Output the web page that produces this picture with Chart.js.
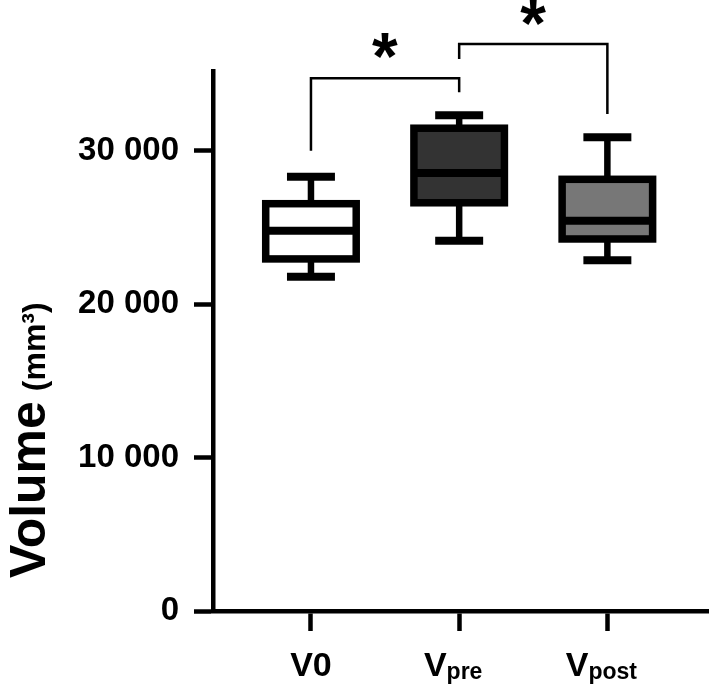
<!DOCTYPE html>
<html><head><meta charset="utf-8">
<script src="https://cdn.jsdelivr.net/npm/chart.js@4.4.1/dist/chart.umd.min.js"></script>
<style>html,body{margin:0;padding:0;background:#fff}canvas{display:block}</style>
</head><body>
<canvas id="c" width="709" height="685"></canvas>
<script>
// ---- data ----
const categories  = ['V0', 'Vpre', 'Vpost'];
const labelMain   = ['V0', 'V', 'V'];
const labelSub    = ['', 'pre', 'post'];
const whiskerLow  = [21790, 24130, 22860];
const q1          = [22950, 26610, 24250];
const median      = [24790, 28550, 25440];
const q3          = [26550, 31470, 28140];
const whiskerHigh = [28310, 32310, 30880];
const yTicks      = [0, 10000, 20000, 30000];
const boxFills    = ['#ffffff', '#333333', '#777777'];
// significance brackets
const sigFrom     = [0, 1];
const sigTo       = [1, 2];
const sigFromEnd  = [30000, 35980];
const sigToEnd    = [33810, 32390];
const sigTop      = [34720, 36960];
const sigStarY    = [36890, 39040];
const sigLabel    = ['*', '*'];
const yTitleMain  = 'Volume';
const yTitleUnit  = '(mm³)';

const FONT = '"Liberation Sans", Arial, Helvetica, sans-serif';

function fmt(v){ return String(v).replace(/\B(?=(\d{3})+(?!\d))/g, ' '); }

function line(ctx, x1, y1, x2, y2){ ctx.beginPath(); ctx.moveTo(x1, y1); ctx.lineTo(x2, y2); ctx.stroke(); }

const boxPlugin = {
  id: 'boxplotDecor',
  afterDatasetsDraw(chart){
    const ctx = chart.ctx;
    const x = chart.scales.x, y = chart.scales.y;
    const meta = chart.getDatasetMeta(0);
    ctx.save();
    ctx.strokeStyle = '#000';
    ctx.fillStyle = '#000';
    ctx.lineCap = 'butt';
    meta.data.forEach((bar, i) => {
      const cx = bar.x;
      const half = bar.width / 2;
      const capHalf = half * 0.53;
      const yLo = y.getPixelForValue(whiskerLow[i]);
      const yQ1 = y.getPixelForValue(q1[i]);
      const yMd = y.getPixelForValue(median[i]);
      const yQ3 = y.getPixelForValue(q3[i]);
      const yHi = y.getPixelForValue(whiskerHigh[i]);
      ctx.lineWidth = 6.5;
      line(ctx, cx, yQ3, cx, yHi);
      line(ctx, cx, yQ1, cx, yLo);
      ctx.lineWidth = 8;
      line(ctx, cx - capHalf, yHi, cx + capHalf, yHi);
      line(ctx, cx - capHalf, yLo, cx + capHalf, yLo);
      ctx.lineWidth = 7.5;
      ctx.lineJoin = 'miter';
      ctx.strokeRect(cx - half, yQ3, 2 * half, yQ1 - yQ3);
      ctx.lineWidth = 8;
      line(ctx, cx - half, yMd, cx + half, yMd);
    });

    // significance brackets
    ctx.lineWidth = 2.5;
    ctx.lineJoin = 'miter';
    sigFrom.forEach((f, k) => {
      const xf = x.getPixelForValue(f), xt = x.getPixelForValue(sigTo[k]);
      const yt = y.getPixelForValue(sigTop[k]);
      ctx.beginPath();
      ctx.moveTo(xf, y.getPixelForValue(sigFromEnd[k]));
      ctx.lineTo(xf, yt);
      ctx.lineTo(xt, yt);
      ctx.lineTo(xt, y.getPixelForValue(sigToEnd[k]));
      ctx.stroke();
      // asterisk centred on its point
      ctx.font = 'bold 66px ' + FONT;
      ctx.textAlign = 'left';
      ctx.textBaseline = 'alphabetic';
      const m = ctx.measureText(sigLabel[k]);
      const cxs = (xf + xt) / 2, cys = y.getPixelForValue(sigStarY[k]);
      const w = m.actualBoundingBoxRight + m.actualBoundingBoxLeft;
      const tx = cxs - w / 2 + m.actualBoundingBoxLeft;
      const ty = cys + (m.actualBoundingBoxAscent - m.actualBoundingBoxDescent) / 2;
      ctx.fillText(sigLabel[k], tx, ty);
    });

    // x category labels with subscripts
    const baseY = chart.chartArea.bottom + 65;
    categories.forEach((c, i) => {
      const cx = x.getPixelForValue(i);
      ctx.font = 'bold 34px ' + FONT;
      const wm = ctx.measureText(labelMain[i]).width;
      ctx.font = 'bold 23px ' + FONT;
      const ws = labelSub[i] ? ctx.measureText(labelSub[i]).width : 0;
      const shift = labelSub[i] ? -6 : 0;
      const start = cx - (wm + ws) / 2 + shift;
      ctx.textAlign = 'left';
      ctx.textBaseline = 'alphabetic';
      ctx.font = 'bold 34px ' + FONT;
      ctx.fillText(labelMain[i], start, baseY);
      if (labelSub[i]) {
        ctx.font = 'bold 23px ' + FONT;
        ctx.fillText(labelSub[i], start + wm, baseY + 3);
      }
    });

    // y axis title (rotated)
    ctx.save();
    ctx.translate(45, 578);
    ctx.rotate(-Math.PI / 2);
    ctx.textAlign = 'left';
    ctx.textBaseline = 'alphabetic';
    ctx.font = 'bold 50px ' + FONT;
    ctx.fillText(yTitleMain, 0, 0);
    const wv = ctx.measureText(yTitleMain + ' ').width;
    ctx.font = 'bold 32px ' + FONT;
    ctx.fillText(yTitleUnit, wv - 4, 0);
    ctx.restore();

    ctx.restore();
  }
};

new Chart(document.getElementById('c'), {
  type: 'bar',
  data: {
    datasets: [{
      data: categories.map((c, i) => ({ x: i, y: [q1[i], q3[i]] })),
      backgroundColor: boxFills,
      borderWidth: 0,
      barThickness: 90.5
    }]
  },
  options: {
    responsive: false,
    animation: false,
    layout: { padding: { top: 71, left: 0, right: 1, bottom: 0 } },
    plugins: { legend: { display: false }, tooltip: { enabled: false } },
    scales: {
      x: {
        type: 'linear',
        offset: false,
        min: -0.661,
        max: 2.679,
        afterBuildTicks: s => { s.ticks = categories.map((c, i) => ({ value: i })); },
        afterFit: s => { s.height = 74; },
        ticks: { display: false },
        grid: { display: true, offset: false, drawOnChartArea: false, drawTicks: true, tickLength: 20, tickWidth: 4.5, tickColor: '#000' },
        border: { display: true, color: '#000', width: 4.5 }
      },
      y: {
        type: 'linear',
        min: 0,
        max: 35200,
        afterBuildTicks: s => { s.ticks = yTicks.map(v => ({ value: v })); },
        afterFit: s => { s.width = 213; },
        ticks: {
          color: '#000',
          padding: 15,
          font: { family: FONT, size: 33, weight: 'bold' },
          callback: v => fmt(v)
        },
        grid: { display: true, drawOnChartArea: false, drawTicks: true, tickLength: 19, tickWidth: 4.5, tickColor: '#000' },
        border: { display: true, color: '#000', width: 4.5 }
      }
    }
  },
  plugins: [boxPlugin]
});
</script>
</body></html>
